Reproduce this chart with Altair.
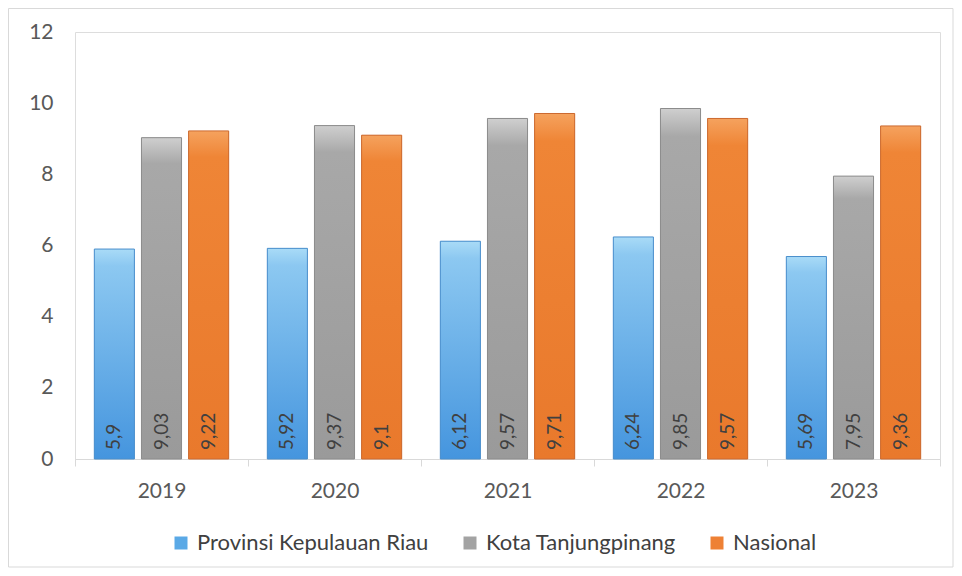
import altair as alt
import pandas as pd

years = ["2019", "2020", "2021", "2022", "2023"]
series = ["Provinsi Kepulauan Riau", "Kota Tanjungpinang", "Nasional"]
prov = [5.9, 5.92, 6.12, 6.24, 5.69]
kota = [9.03, 9.37, 9.57, 9.85, 7.95]
nas = [9.22, 9.1, 9.71, 9.57, 9.36]
solid = ["#5aa9e6", "#a3a3a3", "#ee8135"]

rows = []
for s, vals in zip(series, [prov, kota, nas]):
    for y, v in zip(years, vals):
        rows.append({"year": y, "series": s, "value": v,
                     "label": str(v).replace(".", ",")})
df = pd.DataFrame(rows)

FONT = "Lato"
W, H = 865, 427

xenc = alt.X("year:N", scale=alt.Scale(domain=years, paddingInner=0, paddingOuter=0),
             axis=alt.Axis(title=None, labelAngle=0, tickBand="extent", domainColor="#d9d9d9",
                           tickColor="#d9d9d9", tickSize=7, labelPadding=14, labelFontSize=21,
                           labelColor="#595959", labelFont=FONT))
xoff = alt.XOffset("series:N", scale=alt.Scale(domain=series, paddingInner=0.15, paddingOuter=0.41))
yenc = alt.Y("value:Q", scale=alt.Scale(domain=[0, 12]),
             axis=alt.Axis(title=None, values=[0, 2, 4, 6, 8, 10, 12], grid=False, domain=False,
                           ticks=False, labelPadding=22, labelFontSize=21, labelColor="#595959",
                           labelFont=FONT))

base = alt.Chart(df)

legend_bars = base.mark_bar().encode(
    x=xenc, xOffset=xoff, y=yenc,
    color=alt.Color("series:N", scale=alt.Scale(domain=series, range=solid),
                    legend=alt.Legend(title=None, orient="none", direction="horizontal",
                                      legendX=95, legendY=500, symbolType="square",
                                      symbolSize=169, labelFontSize=22, labelColor="#404040",
                                      labelFont=FONT, columnPadding=30, symbolStrokeWidth=0,
                                      labelOffset=5, labelLimit=0))
)

grads = {
    series[0]: (["#a9dbf7", "#8cc8f1", "#4595de"], "#4b8fcc"),
    series[1]: (["#cfcfcf", "#a8a8a8", "#9a9a9a"], "#8c8c8c"),
    series[2]: (["#f5a25e", "#ef8536", "#e9792c"], "#cc6a30"),
}
layers = []
for s in series:
    cols, edge = grads[s]
    g = alt.Gradient(gradient="linear", x1=0, x2=0, y1=0, y2=1,
                     stops=[alt.GradientStop(color=cols[0], offset=0),
                            alt.GradientStop(color=cols[1], offset=0.08),
                            alt.GradientStop(color=cols[2], offset=1)])
    layers.append(
        base.transform_filter(alt.datum.series == s).mark_bar(fill=g, stroke=edge, strokeWidth=1).encode(
            x=xenc, xOffset=xoff, y=yenc)
    )

labels = base.mark_text(angle=270, align="left", baseline="middle", dx=9, fontSize=19,
                        color="#404040", font=FONT).encode(
    x=xenc, xOffset=xoff, y=alt.datum(0), text="label:N")

frame = alt.Chart(pd.DataFrame({"a": [0]})).mark_rect(fillOpacity=0, stroke="#d9d9d9", strokeWidth=1).encode(
    x=alt.value(-66.5), x2=alt.value(878), y=alt.value(-23.5), y2=alt.value(535))

chart = alt.layer(frame, legend_bars, *layers, labels).properties(
    width=W, height=H,
    autosize=alt.AutoSizeParams(type="none"),
    padding={"left": 67, "top": 24, "right": 14, "bottom": 109},
).configure_view(stroke=None).configure(background="white")

chart.save("out.html", embed_options={"renderer": "svg", "actions": False})
